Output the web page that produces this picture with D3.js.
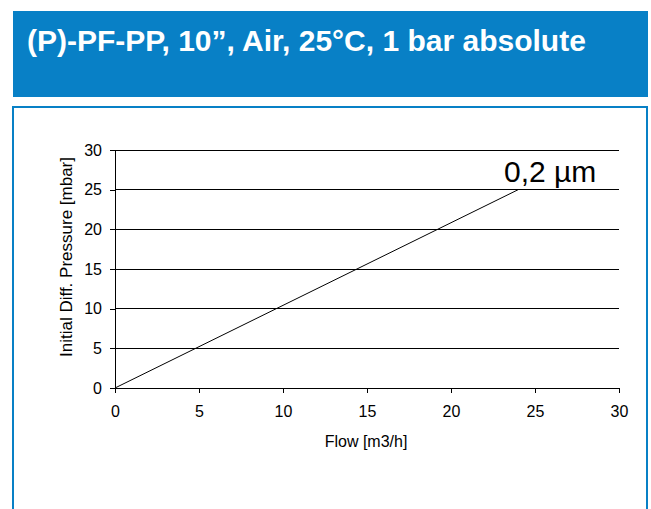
<!DOCTYPE html>
<html><head><meta charset="utf-8">
<script src="https://cdn.jsdelivr.net/npm/d3@7"></script>
<style>body{margin:0;background:#fff}svg{display:block}</style>
</head><body>
<script>
const title = "(P)-PF-PP, 10\u201d, Air, 25\u00b0C, 1 bar absolute";
const flow = [0, 24];
const pressure = [0, 25];
const seriesLabel = "0,2 \u00b5m";
const xTicks = [0, 5, 10, 15, 20, 25, 30];
const yTicks = [0, 5, 10, 15, 20, 25, 30];
const xLabel = "Flow [m3/h]";
const yLabel = "Initial Diff. Pressure [mbar]";

const W = 651, H = 509;
const svg = d3.select("body").append("svg").attr("width", W).attr("height", H);
const blue = "#0880c6";
const font = "Liberation Sans, Arial, sans-serif";

svg.append("rect").attr("x", 13).attr("y", 11).attr("width", 635).attr("height", 86).attr("fill", blue);
svg.append("text").attr("x", 27).attr("y", 51).attr("fill", "#fff")
  .attr("font-family", font).attr("font-weight", "bold")
  .attr("font-size", 30).text(title);

svg.append("rect").attr("x", 13).attr("y", 107).attr("width", 634).attr("height", 420)
  .attr("fill", "none").attr("stroke", blue).attr("stroke-width", 2);

const x = d3.scaleLinear().domain([0, 30]).range([115, 619]);
const y = d3.scaleLinear().domain([0, 30]).range([388, 150]);

// gridlines
svg.append("g").selectAll("line").data(yTicks.filter(d => d > 0)).join("line")
  .attr("x1", x(0)).attr("x2", x(30)).attr("y1", d => y(d)).attr("y2", d => y(d))
  .attr("stroke", "#000").attr("stroke-width", 1).attr("shape-rendering", "crispEdges");

const xAxis = svg.append("g").attr("transform", `translate(0,${y(0)})`)
  .call(d3.axisBottom(x).tickValues(xTicks).tickSizeOuter(0).tickSize(5).tickPadding(13));
const yAxis = svg.append("g").attr("transform", `translate(${x(0)},0)`)
  .call(d3.axisLeft(y).tickValues(yTicks).tickSizeOuter(0).tickSize(5).tickPadding(8));
[xAxis, yAxis].forEach(a => {
  a.selectAll("text").attr("font-family", font).attr("font-size", 16).attr("fill", "#000");
  a.selectAll("line,path").attr("stroke", "#000").attr("shape-rendering", "crispEdges");
});

svg.append("path").datum(flow.map((f, i) => [f, pressure[i]]))
  .attr("d", d3.line().x(d => x(d[0])).y(d => y(d[1])))
  .attr("fill", "none").attr("stroke", "#000").attr("stroke-width", 1);

svg.append("text").attr("x", x(flow[1]) + 32).attr("y", y(pressure[1]) - 8)
  .attr("text-anchor", "middle").attr("font-family", font).attr("font-size", 30)
  .attr("fill", "#000").text(seriesLabel);

svg.append("text").attr("x", (x(0) + x(30)) / 2 - 1).attr("y", 447).attr("text-anchor", "middle")
  .attr("font-family", font).attr("font-size", 16).attr("fill", "#000").text(xLabel);
svg.append("text").attr("transform", `translate(72,${(y(0) + y(30)) / 2 - 12}) rotate(-90)`)
  .attr("text-anchor", "middle").attr("font-family", font).attr("font-size", 17)
  .attr("fill", "#000").text(yLabel);
</script>
</body></html>
